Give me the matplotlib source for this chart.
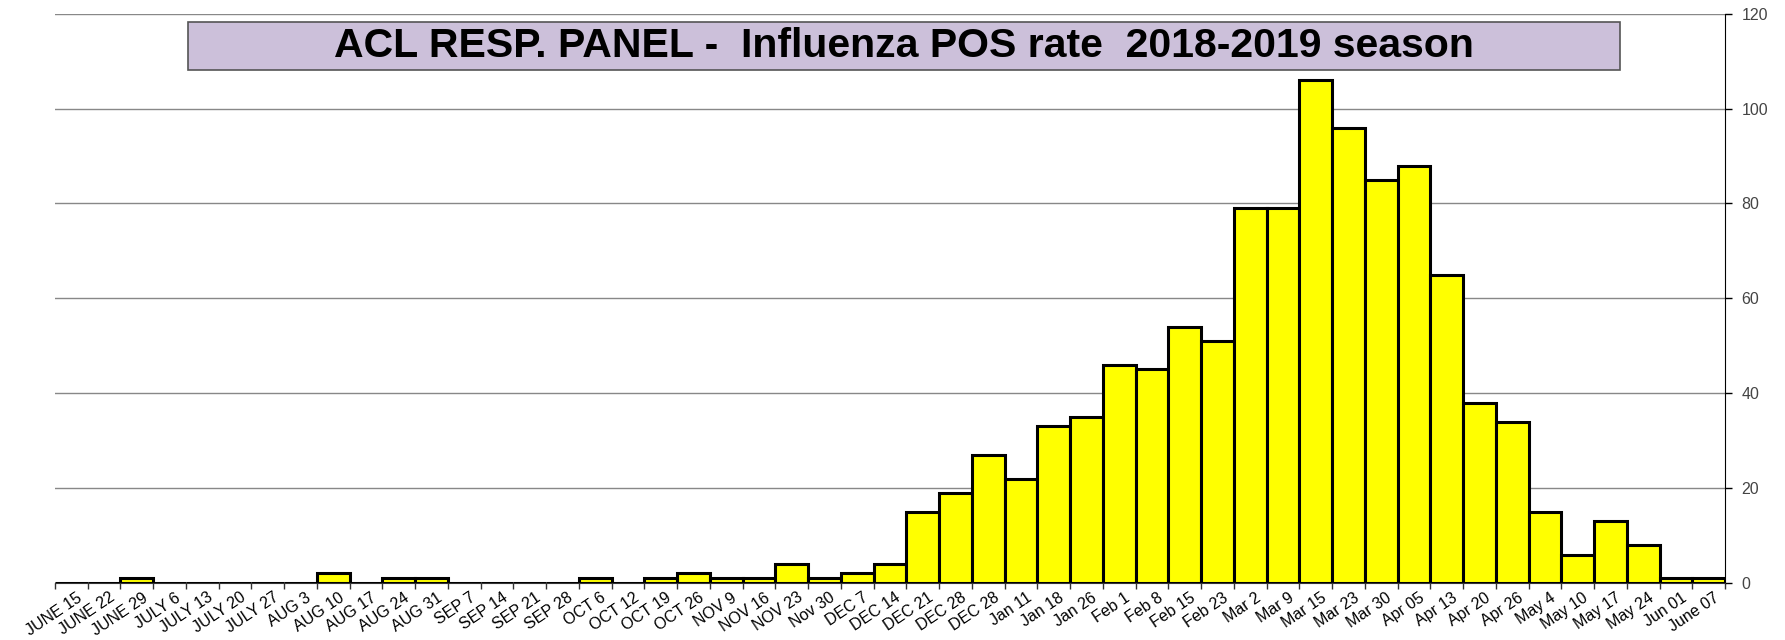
import matplotlib
matplotlib.use('Agg')
import matplotlib.pyplot as plt
from matplotlib import font_manager
from matplotlib.patches import Rectangle
import numpy as np

weeks = ['JUNE 15', 'JUNE 22', 'JUNE 29', 'JULY 6', 'JULY 13', 'JULY 20', 'JULY 27',
         'AUG 3', 'AUG 10', 'AUG 17', 'AUG 24', 'AUG 31', 'SEP 7', 'SEP 14', 'SEP 21',
         'SEP 28', 'OCT 6', 'OCT 12', 'OCT 19', 'OCT 26', 'NOV 9', 'NOV 16', 'NOV 23',
         'Nov 30', 'DEC 7', 'DEC 14', 'DEC 21', 'DEC 28', 'DEC 28', 'Jan 11', 'Jan 18',
         'Jan 26', 'Feb 1', 'Feb 8', 'Feb 15', 'Feb 23', 'Mar 2', 'Mar 9', 'Mar 15',
         'Mar 23', 'Mar 30', 'Apr 05', 'Apr 13', 'Apr 20', 'Apr 26', 'May 4', 'May 10',
         'May 17', 'May 24', 'Jun 01', 'June 07']
pos_count = [0, 0, 1, 0, 0, 0, 0,
             0, 2, 0, 1, 1, 0, 0, 0,
             0, 1, 0, 1, 2, 1, 1, 4,
             1, 2, 4, 15, 19, 27, 22, 33,
             35, 46, 45, 54, 51, 79, 79, 106,
             96, 85, 88, 65, 38, 34, 15, 6,
             13, 8, 1, 1]
y_ticks = [0, 20, 40, 60, 80, 100, 120]
title = 'ACL RESP. PANEL -  Influenza POS rate  2018-2019 season'

names = {f.name for f in font_manager.fontManager.ttflist}
base_font = 'Liberation Sans' if 'Liberation Sans' in names else 'DejaVu Sans'
plt.rcParams['font.family'] = base_font

fig = plt.figure(figsize=(17.85, 6.4), dpi=100)
ax = fig.add_axes([0.0308, 0.0891, 0.9356, 0.8895])

x = np.arange(len(weeks))
ax.bar(x, pos_count, width=1.0, color='#FFFF00', edgecolor='black', linewidth=2.2, zorder=3)

ax.set_xlim(-0.5, len(weeks) - 0.5)
ax.set_ylim(0, 120)
ax.set_xticks(x + 0.15)
ax.set_xticklabels(weeks, rotation=34, ha='right', rotation_mode='anchor', fontsize=11.5)
ax.tick_params(axis='x', length=0, pad=5)
ax.set_xticks(np.arange(len(weeks) + 1) - 0.5, minor=True)
ax.tick_params(axis='x', which='minor', length=4, width=1, direction='out', color='#333333')

ax.yaxis.tick_right()
ax.set_yticks(y_ticks)
ax.tick_params(axis='y', length=5, width=1, direction='out', labelsize=11.5,
               labelcolor='#444444', pad=7)
ax.grid(axis='y', color='#888888', linewidth=1, zorder=0)

for side in ['left', 'top']:
    ax.spines[side].set_visible(False)
ax.spines['right'].set_color('black')
ax.spines['bottom'].set_color('#333333')

# title box
fig.patches.append(Rectangle((0.1053, 0.8914), 0.8022, 0.0748, transform=fig.transFigure,
                             facecolor='#CCC0DA', edgecolor='#555555', linewidth=1.2, zorder=5))
fig.text(0.5064, 0.928, title, ha='center', va='center', fontsize=29.5, fontweight='bold',
         zorder=6)

fig.savefig('out.png', dpi=100)
